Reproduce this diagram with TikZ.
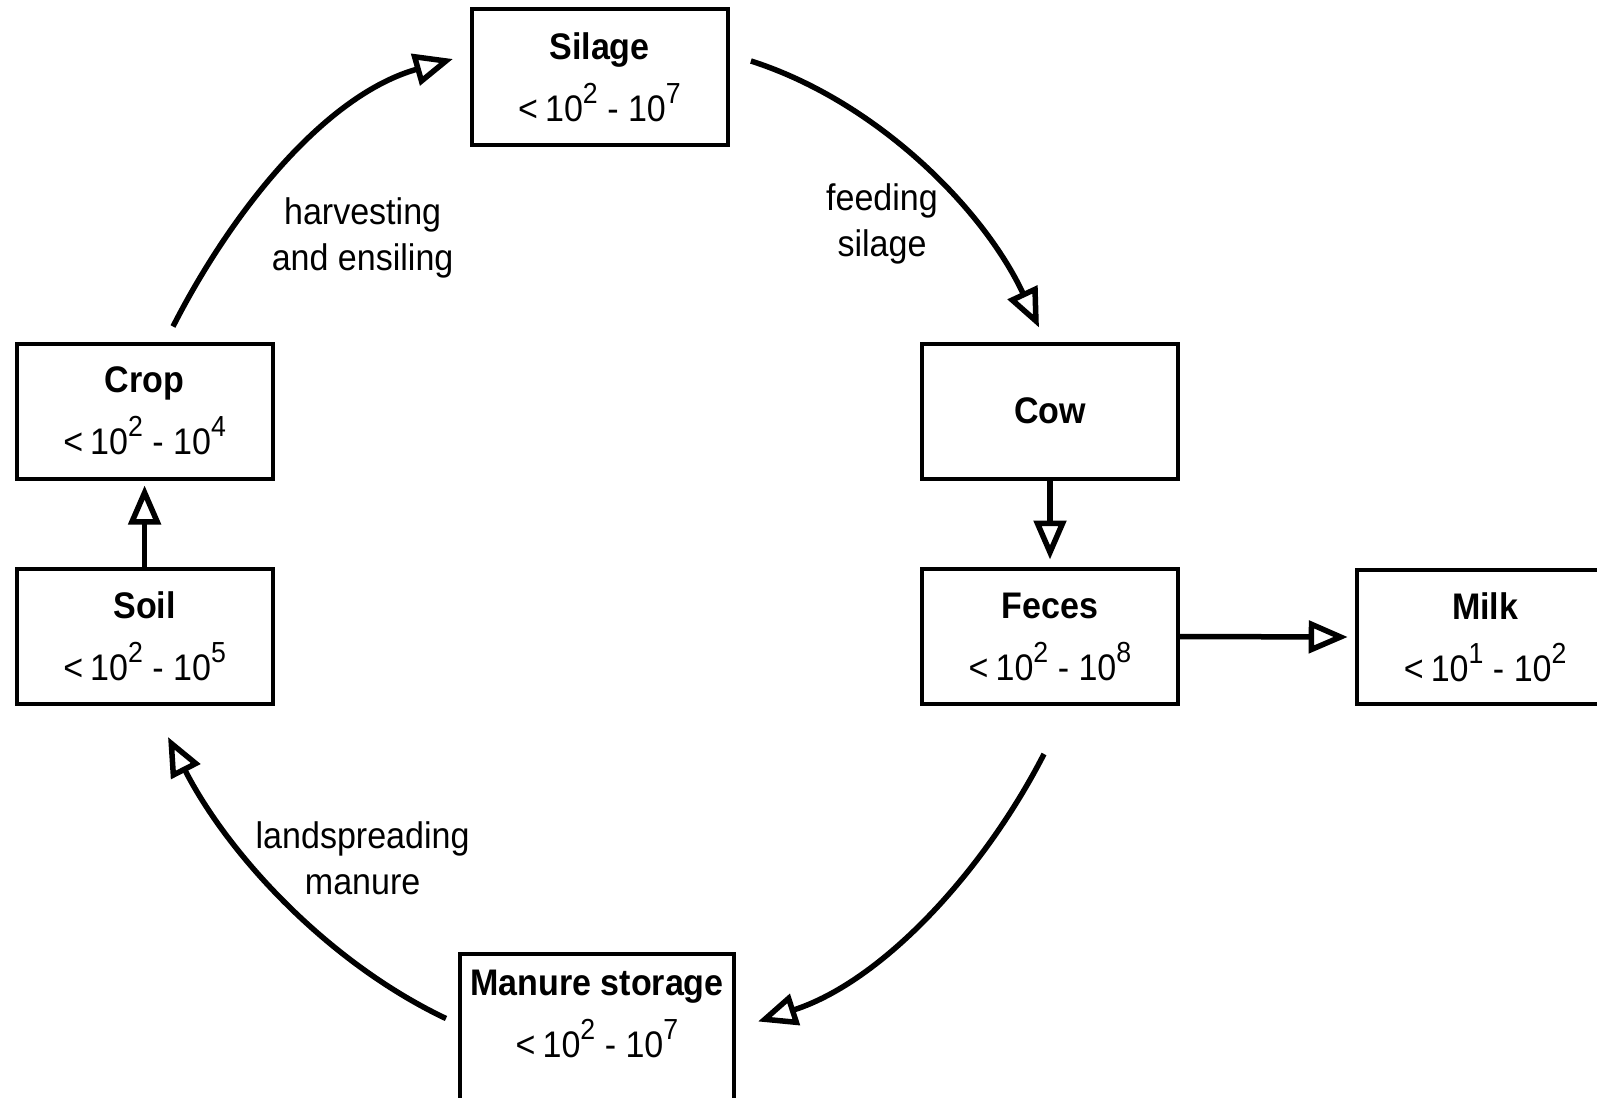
\documentclass[tikz,border=0pt]{standalone}
\usepackage{fontspec}
\setmainfont{Liberation Sans}[FakeStretch=0.92]
\usetikzlibrary{arrows.meta,calc}
\newcommand{\sps}[1]{\raisebox{18pt}{\fontsize{29}{29}\selectfont #1}}
\newcommand{\rng}[2]{<\hspace{7pt}10\sps{#1} - 10\sps{#2}}
\begin{document}
\begin{tikzpicture}[x=1pt,y=-1pt,
  box/.style={draw=black, line width=4pt, minimum width=256pt, minimum height=135pt,
    inner sep=0pt, align=center, font=\fontsize{37}{62}\selectfont},
  boxtext/.style={inner sep=0pt, align=center, font=\fontsize{37}{62}\selectfont},
  flow/.style={line width=5.5pt, -{Triangle[open, length=39pt, width=32pt]}},
  lbl/.style={inner sep=0pt, align=center, font=\fontsize{37}{46}\selectfont}]
\useasboundingbox (0,0) rectangle (1597,1097);
\clip (0,0) rectangle (1597,1097);

% boxes
\node[box] (silage) at (599.5,77) {\textbf{Silage}\\\rng{2}{7}};
\node[box] (crop) at (144.6,411) {\textbf{Crop}\\\rng{2}{4}};
\node[box] (soil) at (144.6,636.5) {\textbf{Soil}\\\rng{2}{5}};
\node[box] (cow) at (1050,411) {\textbf{Cow}};
\node[box] (feces) at (1050,636.5) {\textbf{Feces}\\\rng{2}{8}};
\node[box, minimum width=257pt, minimum height=134pt] (milk) at (1485.2,637) {\textbf{Milk}\\\rng{1}{2}};
\node[box, minimum width=274pt, minimum height=160pt] (manure) at (597,1034) {};
\node[boxtext, anchor=north] (manuretext) at ($(manure.north)+(0,18)$) {\textbf{Manure storage}\\\rng{2}{7}};

% labels
\node[lbl] (lharv) at (362.6,238) {harvesting\\and ensiling};
\node[lbl] (lfeed) at (882,223.5) {feeding\\silage};
\node[lbl] (lland) at (362.6,858) {landspreading\\manure};

% straight arrows
\draw[flow] (soil.north) -- ($(crop.south)+(0,5)$);
\draw[flow] (cow.south) -- ($(feces.north)+(0,-7.5)$);
\draw[flow] (feces.east) -- ($(milk.west)+(-7,0)$);

% curved arrows
\draw[flow] ($(crop.north)+(28.4,-15)$) .. controls (233,209) and (326,95) .. ($(silage.west)+(-16.6,-18)$);
\draw[flow] ($(silage.east)+(21.4,-16)$) .. controls (876,101) and (983,208) .. ($(cow.north)+(-11,-14)$);
\draw[flow] ($(feces.south)+(-6,48)$) .. controls (984,871) and (883,981) .. ($(manure.east)+(22,-12.5)$);
\draw[flow] ($(manure.west)+(-12,-15.5)$) .. controls (327,962) and (228,854) .. ($(soil.south)+(23.4,31)$);
\end{tikzpicture}
\end{document}
